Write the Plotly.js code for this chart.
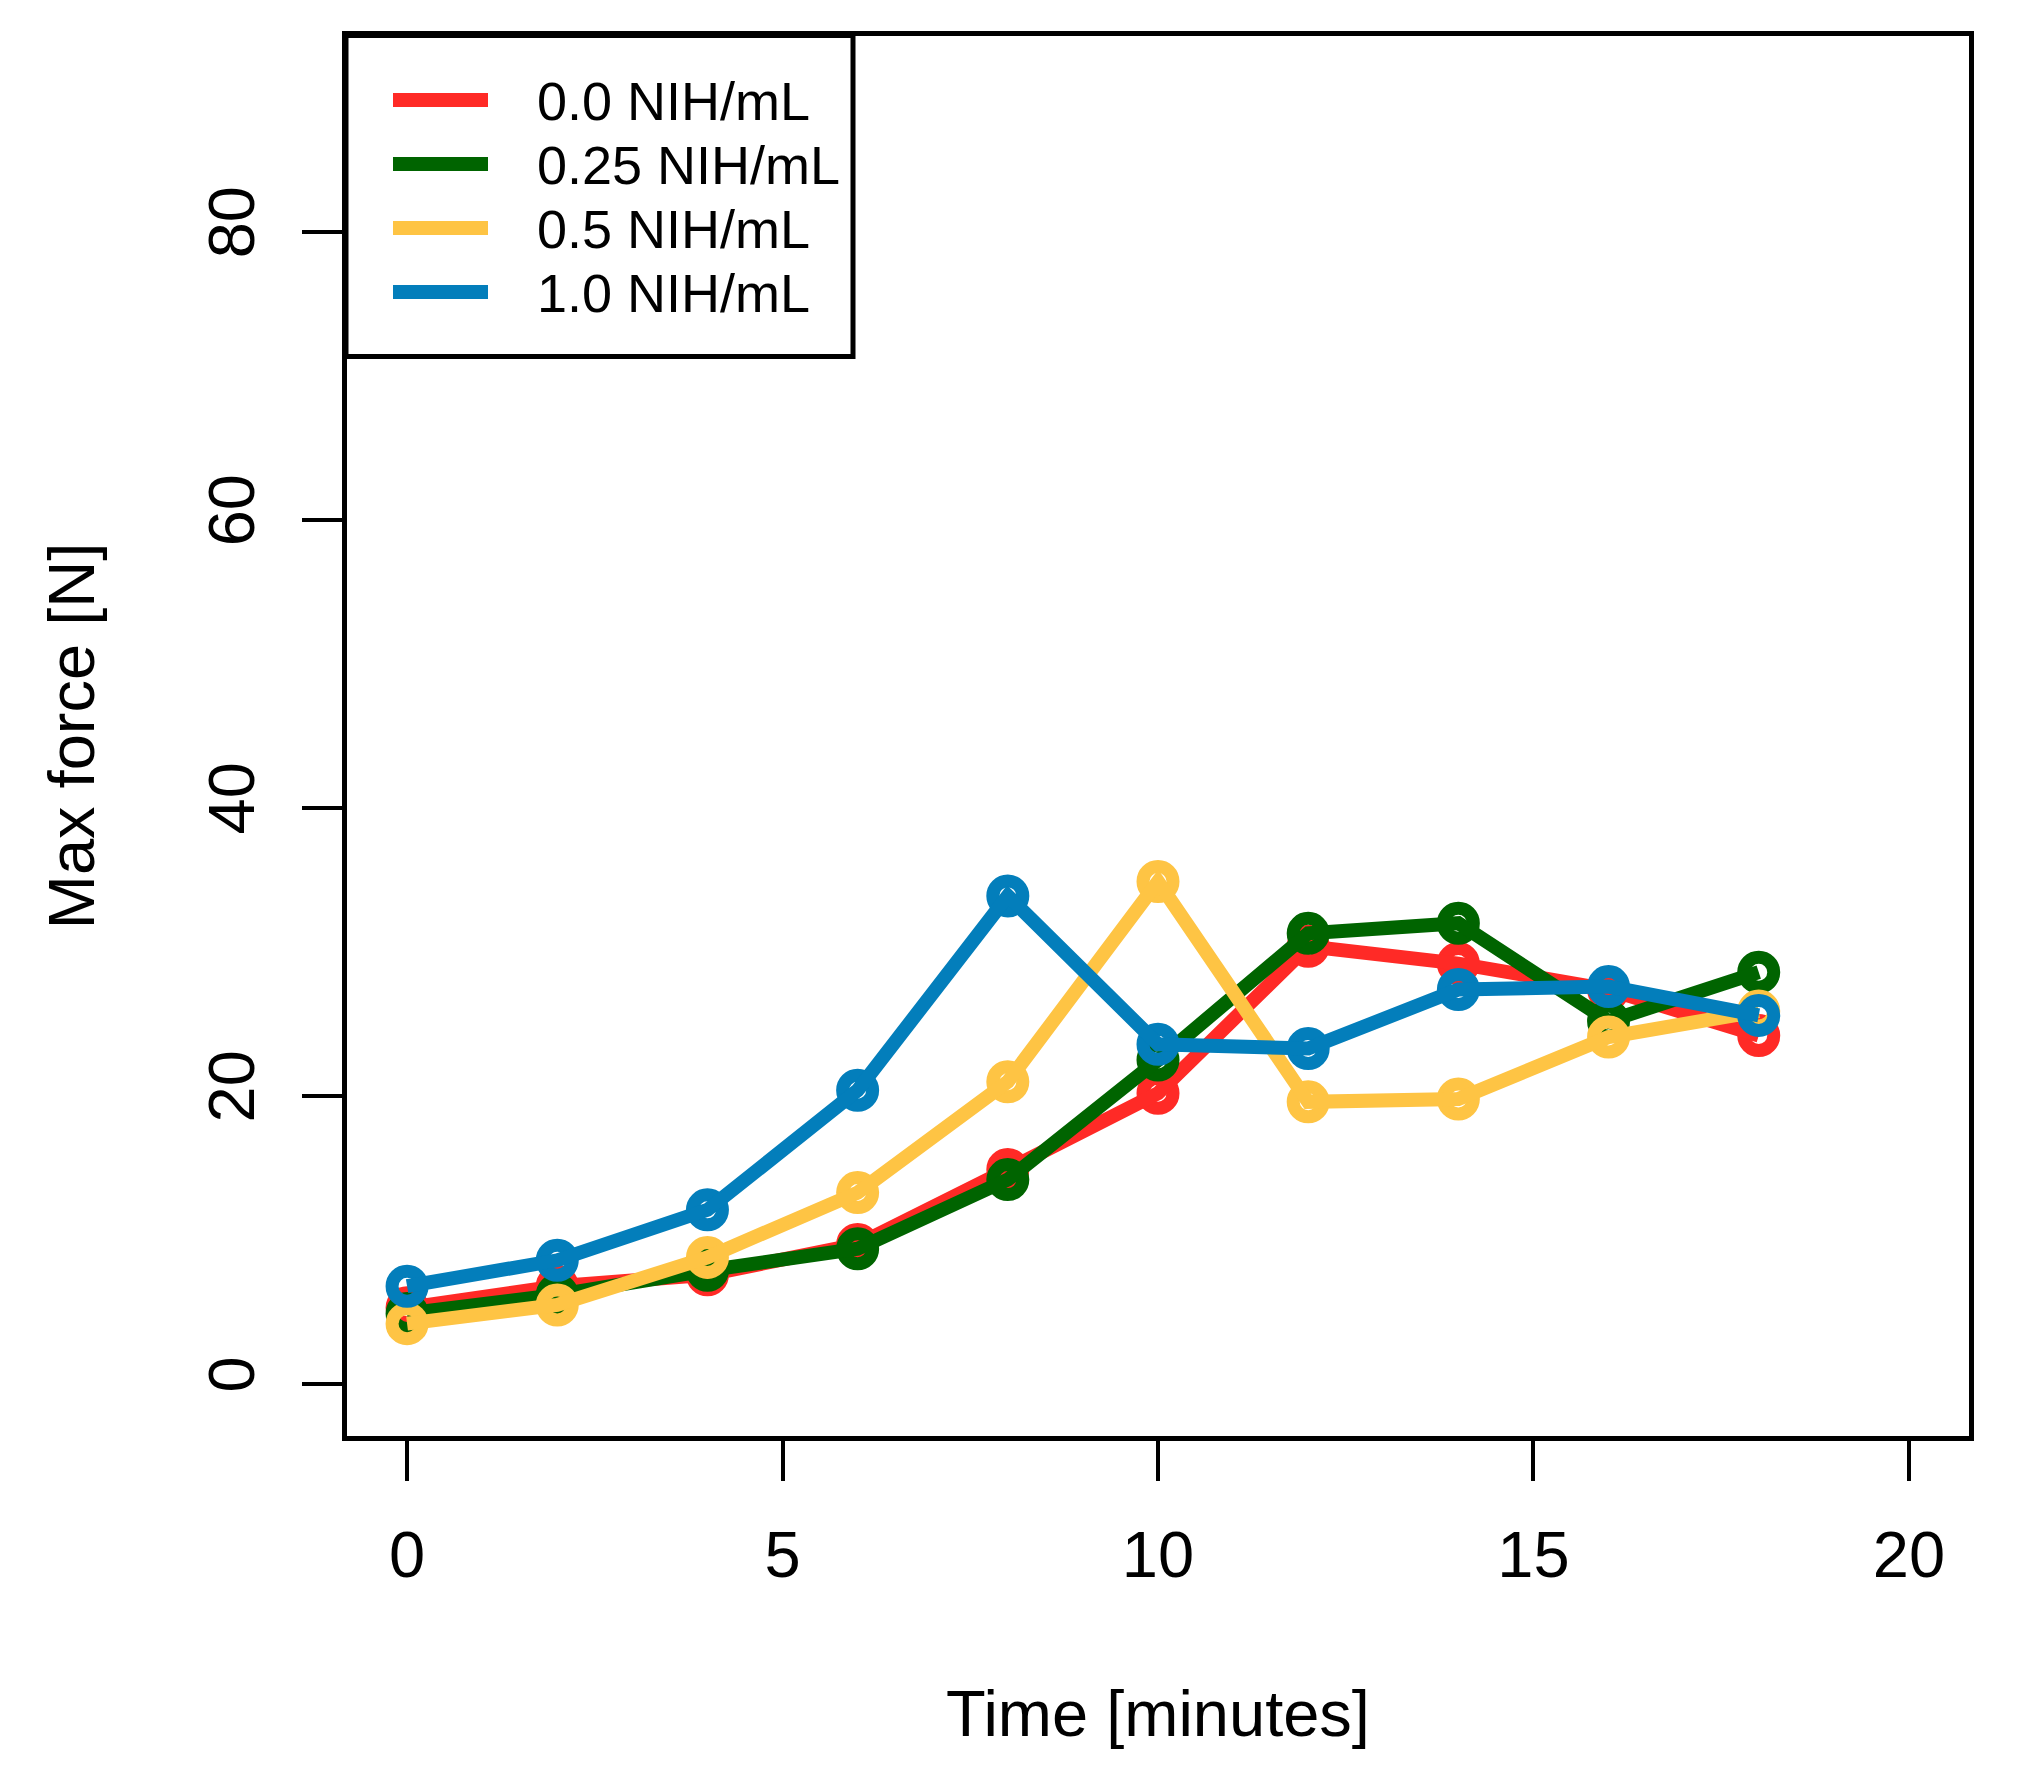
<!DOCTYPE html>
<html>
<head>
<meta charset="utf-8">
<script src="https://cdn.plot.ly/plotly-3.0.1.min.js"></script>
<style>html,body{margin:0;padding:0;background:#fff;}</style>
</head>
<body>
<div id="chart" style="width:2027px;height:1787px;"></div>
<script>
// ---- data ----
const timeMinutes = [0, 2, 4, 6, 8, 10, 12, 14, 16, 18];
const seriesNames = ['0.0 NIH/mL', '0.25 NIH/mL', '0.5 NIH/mL', '1.0 NIH/mL'];
const force00  = [5.3, 6.8, 7.6, 9.7, 14.9, 20.2, 30.4, 29.2, 27.4, 24.2];
const force025 = [4.9, 6.2, 7.9, 9.4, 14.2, 22.5, 31.3, 32.0, 25.2, 28.6];
const force05  = [4.2, 5.5, 8.8, 13.3, 21.0, 34.9, 19.6, 19.8, 24.1, 25.9];
const force10  = [6.8, 8.6, 12.1, 20.4, 33.9, 23.6, 23.3, 27.4, 27.6, 25.6];
const xTicks = [0, 5, 10, 15, 20];
const yTicks = [0, 20, 40, 60, 80];

// ---- styles ----
const seriesValues = [force00, force025, force05, force10];
const seriesColors = ['#FF2A26', '#006400', '#FEC444', '#037EBB'];
const FONT = 'Liberation Sans, Arial, Helvetica, sans-serif';

const W = 2027, H = 1787;
const M = {l: 347, r: 58, t: 36, b: 351};
const plotW = W - M.l - M.r, plotH = H - M.t - M.b;
const px = x => (x - M.l) / plotW;
const py = y => (H - M.b - y) / plotH;

const traces = [];
seriesValues.forEach((vals, i) => {
  traces.push({
    x: timeMinutes, y: vals, type: 'scatter', mode: 'markers',
    marker: {symbol: 'circle-open', size: 30, color: seriesColors[i], line: {width: 13, color: seriesColors[i]}},
    showlegend: false, hoverinfo: 'skip', cliponaxis: false
  });
  traces.push({
    x: timeMinutes, y: vals, type: 'scatter', mode: 'lines', name: seriesNames[i],
    line: {color: seriesColors[i], width: 14},
    showlegend: false, cliponaxis: false
  });
});

// manual R-style legend
const legRowsY = [100, 164, 228, 292];
const shapes = [{
  type: 'rect', xref: 'paper', yref: 'paper',
  x0: px(346), x1: px(853), y0: py(35.5), y1: py(356.5),
  line: {color: 'black', width: 5}, fillcolor: 'rgba(0,0,0,0)', layer: 'above'
}];
const annotations = [];
seriesNames.forEach((nm, i) => {
  shapes.push({
    type: 'line', xref: 'paper', yref: 'paper',
    x0: px(393), x1: px(488), y0: py(legRowsY[i]), y1: py(legRowsY[i]),
    line: {color: seriesColors[i], width: 14}, layer: 'above'
  });
  annotations.push({
    xref: 'paper', yref: 'paper', x: px(535), y: py(legRowsY[i] + 1),
    xanchor: 'left', yanchor: 'middle', showarrow: false,
    text: nm, font: {family: FONT, size: 54, color: 'black'}
  });
});

const axisCommon = {
  ticks: 'outside', ticklen: 40, tickwidth: 4, tickcolor: 'black',
  showline: true, mirror: true, linecolor: 'black', linewidth: 5,
  showgrid: false, zeroline: false,
  tickfont: {family: FONT, size: 65, color: 'black'}
};

const layout = {
  width: W, height: H,
  margin: {l: M.l, r: M.r, t: M.t, b: M.b, pad: 0},
  paper_bgcolor: 'white', plot_bgcolor: 'white',
  showlegend: false,
  font: {family: FONT, color: 'black'},
  xaxis: Object.assign({}, axisCommon, {
    range: [-0.8, 20.8], tickmode: 'array', tickvals: xTicks, ticktext: xTicks.map(String),
    ticklabelstandoff: 18,
    title: {text: 'Time [minutes]', font: {family: FONT, size: 65, color: 'black'}, standoff: 102}
  }),
  yaxis: Object.assign({}, axisCommon, {
    range: [-3.6, 93.6], tickmode: 'array', tickvals: yTicks, ticktext: yTicks.map(String),
    tickangle: -90, ticklabelstandoff: 22,
    title: {text: 'Max force [N]', font: {family: FONT, size: 65, color: 'black'}, standoff: 81}
  }),
  shapes: shapes,
  annotations: annotations
};

Plotly.newPlot('chart', traces, layout, {staticPlot: true, displayModeBar: false});
</script>
</body>
</html>
